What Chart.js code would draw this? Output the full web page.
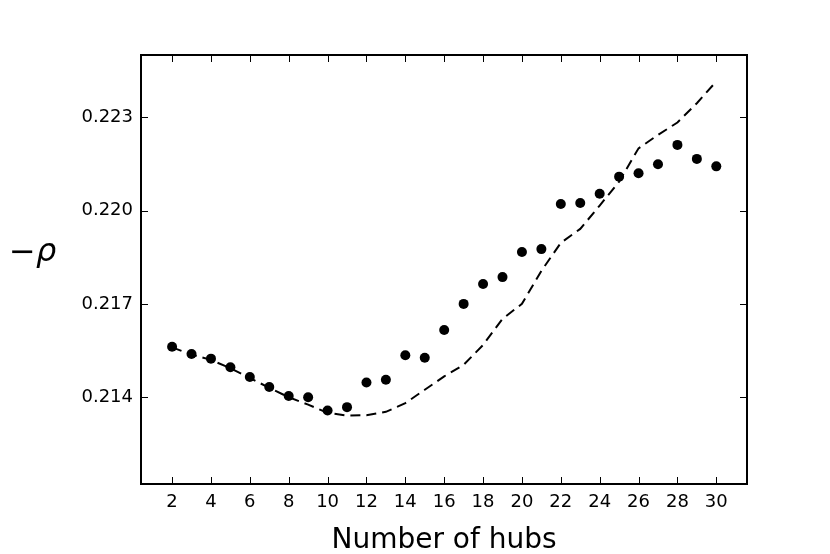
<!DOCTYPE html>
<html>
<head>
<meta charset="utf-8">
<script src="https://cdn.jsdelivr.net/npm/chart.js@4.4.1/dist/chart.umd.min.js"></script>
<style>
  html, body { margin: 0; background: #fff; }
  #wrap { width: 830px; height: 554px; }
</style>
</head>
<body>
<div id="wrap"><canvas id="grafico"></canvas></div>
<script>
// numero de hubs e os dois -rho (pontos medidos, curva tracejada)
const hubs = [2, 3, 4, 5, 6, 7, 8, 9, 10, 11, 12, 13, 14, 15, 16,
  17, 18, 19, 20, 21, 22, 23, 24, 25, 26, 27, 28, 29, 30];
const rhoPontos = [0.21562, 0.21539, 0.21524, 0.21496, 0.21465, 0.21433, 0.21404, 0.21400,
  0.21357, 0.21368, 0.21447, 0.21456, 0.21535, 0.21527, 0.21616, 0.21700, 0.21764, 0.21786,
  0.21867, 0.21876, 0.22021, 0.22024, 0.22054, 0.22109, 0.22120, 0.22149, 0.22211, 0.22166,
  0.22142];
const rhoModelo = [0.21560, 0.21537, 0.21520, 0.21493, 0.21462, 0.21430, 0.21400, 0.21376,
  0.21350, 0.21341, 0.21342, 0.21353, 0.21381, 0.21424, 0.21467, 0.21504, 0.21568, 0.21652,
  0.21700, 0.21806, 0.21896, 0.21941, 0.22016, 0.22093, 0.22200, 0.22243, 0.22283, 0.22345,
  0.22415];
const xTicks = [2, 4, 6, 8, 10, 12, 14, 16, 18, 20, 22, 24, 26, 28, 30];
const yTicks = [0.214, 0.217, 0.220, 0.223];

const FONTE = "'DejaVu Sans', sans-serif";
const TICK = 7;

// moldura + ticks para dentro nos quatro lados (estilo matplotlib classico)
const moldura = {
  id: 'moldura',
  afterDraw(chart) {
    const { ctx, chartArea: a, scales } = chart;
    ctx.save();
    ctx.strokeStyle = '#000';
    ctx.lineWidth = 1;
    ctx.beginPath();
    for (const v of xTicks) {
      const px = Math.round(scales.x.getPixelForValue(v)) + 0.5;
      ctx.moveTo(px, a.bottom); ctx.lineTo(px, a.bottom - TICK);
      ctx.moveTo(px, a.top); ctx.lineTo(px, a.top + TICK);
    }
    for (const v of yTicks) {
      const py = Math.round(scales.y.getPixelForValue(v)) + 0.5;
      ctx.moveTo(a.left, py); ctx.lineTo(a.left + TICK, py);
      ctx.moveTo(a.right, py); ctx.lineTo(a.right - TICK, py);
    }
    ctx.stroke();
    ctx.lineWidth = 2;
    ctx.strokeRect(a.left, a.top, a.right - a.left, a.bottom - a.top);

    // rotulo do eixo y na horizontal: -rho
    ctx.fillStyle = '#000';
    ctx.textBaseline = 'alphabetic';
    ctx.font = '32px ' + FONTE;
    ctx.fillText('\u2212', 9, 262);
    ctx.font = 'italic 32px ' + FONTE;
    ctx.fillText('\u03c1', 36, 261);
    ctx.restore();
  }
};

new Chart(document.getElementById('grafico'), {
  type: 'scatter',
  data: {
    datasets: [
      {
        label: 'medido',
        data: hubs.map((h, i) => ({ x: h, y: rhoPontos[i] })),
        pointRadius: 5, pointHoverRadius: 5,
        backgroundColor: '#000', borderWidth: 0, showLine: false
      },
      {
        label: 'modelo',
        data: hubs.map((h, i) => ({ x: h, y: rhoModelo[i] })),
        showLine: true, pointRadius: 0, borderColor: '#000',
        borderWidth: 2, borderDash: [10, 6], tension: 0, fill: false
      }
    ]
  },
  options: {
    responsive: true, maintainAspectRatio: false, animation: false,
    devicePixelRatio: 1,
    layout: { padding: { left: 0, right: 83, top: 55, bottom: 0 } },
    plugins: { legend: { display: false }, tooltip: { enabled: false } },
    scales: {
      x: {
        type: 'linear', min: 0.4, max: 31.58,
        afterBuildTicks: s => { s.ticks = xTicks.map(v => ({ value: v })); },
        afterFit: s => { s.height = 70; },
        grid: { display: false, drawTicks: false },
        border: { display: false },
        ticks: {
          autoSkip: false, maxRotation: 0, padding: 8, color: '#000',
          font: { family: FONTE, size: 18 }, callback: v => String(v)
        },
        title: {
          display: true, text: 'Number of hubs', color: '#000',
          font: { family: FONTE, size: 28 }, padding: { top: 0, bottom: -4 }
        }
      },
      y: {
        type: 'linear', min: 0.21121, max: 0.2250,
        afterBuildTicks: s => { s.ticks = yTicks.map(v => ({ value: v })); },
        afterFit: s => { s.width = 141; },
        grid: { display: false, drawTicks: false },
        border: { display: false },
        ticks: {
          autoSkip: false, padding: 8, color: '#000',
          font: { family: FONTE, size: 18 }, callback: v => v.toFixed(3)
        }
      }
    }
  },
  plugins: [moldura]
});
</script>
</body>
</html>
